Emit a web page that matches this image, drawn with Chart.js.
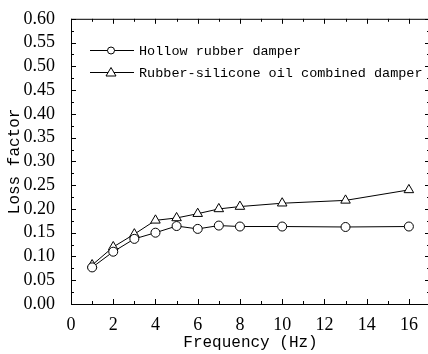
<!DOCTYPE html>
<html>
<head>
<meta charset="utf-8">
<script src="https://cdn.jsdelivr.net/npm/chart.js@4/dist/chart.umd.min.js"></script>
<style>
  html, body { margin: 0; padding: 0; background: #fff; overflow: hidden; }
  #wrap { width: 440px; height: 354px; }
</style>
</head>
<body>
<div id="wrap"><canvas id="c" width="440" height="354"></canvas></div>
<script>
const freq = [1, 2, 3, 4, 5, 6, 7, 8, 10, 13, 16];
const hollow = [0.077, 0.110, 0.137, 0.150, 0.164, 0.158, 0.165, 0.163, 0.163, 0.162, 0.163];
const combined = [0.082, 0.120, 0.147, 0.176, 0.181, 0.190, 0.200, 0.205, 0.212, 0.218, 0.240];
const seriesNames = ["Hollow rubber damper", "Rubber-silicone oil combined damper"];
const xTicks = [0, 2, 4, 6, 8, 10, 12, 14, 16];

const serif = "'Liberation Serif', 'Times New Roman', serif";
const mono = "'Liberation Mono', 'DejaVu Sans Mono', monospace";

// frame, inward ticks and legend
const framePlugin = {
  id: "frame",
  afterDraw(chart) {
    const { ctx, chartArea: a, scales } = chart;
    const xs = scales.x, ys = scales.y;
    ctx.save();
    ctx.strokeStyle = "#000";
    ctx.lineWidth = 1;
    ctx.strokeRect(a.left + 0.5, a.top + 0.5, a.right - a.left, a.bottom - a.top);
    ctx.beginPath();
    for (let v = 0; v <= 17; v++) {
      const len = v % 2 === 0 ? 5 : 3;
      const px = Math.round(xs.getPixelForValue(v)) + 0.5;
      ctx.moveTo(px, a.bottom); ctx.lineTo(px, a.bottom - len);
      ctx.moveTo(px, a.top); ctx.lineTo(px, a.top + len);
    }
    for (let i = 0; i <= 24; i++) {
      const v = i * 0.025;
      const len = i % 2 === 0 ? 5 : 3;
      const py = Math.round(ys.getPixelForValue(v)) + 0.5;
      ctx.moveTo(a.left, py); ctx.lineTo(a.left + len, py);
      ctx.moveTo(a.right, py); ctx.lineTo(a.right - len, py);
    }
    ctx.stroke();

    // legend
    const rows = [{ y: 50, style: "circle" }, { y: 72, style: "triangle" }];
    ctx.font = "13.5px " + mono;
    ctx.fillStyle = "#000";
    ctx.textBaseline = "middle";
    rows.forEach((r, i) => {
      ctx.beginPath();
      ctx.moveTo(90, r.y + 0.5); ctx.lineTo(134, r.y + 0.5);
      ctx.stroke();
      ctx.beginPath();
      if (r.style === "circle") {
        ctx.arc(111, r.y + 0.5, 3.5, 0, Math.PI * 2);
      } else {
        ctx.moveTo(111, r.y - 4.5); ctx.lineTo(116, r.y + 4); ctx.lineTo(106, r.y + 4); ctx.closePath();
      }
      ctx.fillStyle = "#fff"; ctx.fill(); ctx.stroke();
      ctx.fillStyle = "#000";
      ctx.fillText(seriesNames[i], 139, r.y + 1);
    });
    ctx.restore();
  }
};

new Chart(document.getElementById("c"), {
  type: "line",
  data: {
    datasets: [
      {
        label: seriesNames[0],
        data: freq.map((f, i) => ({ x: f, y: hollow[i] })),
        borderColor: "#000", borderWidth: 1,
        pointStyle: "circle", pointRadius: 4.5,
        pointBackgroundColor: "#fff", pointBorderColor: "#000", pointBorderWidth: 1
      },
      {
        label: seriesNames[1],
        data: freq.map((f, i) => ({ x: f, y: combined[i] })),
        borderColor: "#000", borderWidth: 1,
        pointStyle: "triangle", pointRadius: 5.5,
        pointBackgroundColor: "#fff", pointBorderColor: "#000", pointBorderWidth: 1
      }
    ]
  },
  options: {
    responsive: false,
    animation: false,
    layout: { padding: { top: 13, right: 10, left: 0, bottom: 0 } },
    plugins: { legend: { display: false }, tooltip: { enabled: false } },
    scales: {
      x: {
        type: "linear", min: 0, max: 17,
        grid: { display: false }, border: { display: false },
        afterBuildTicks: s => { s.ticks = xTicks.map(v => ({ value: v })); },
        afterFit: s => { s.height = 50; },
        ticks: { autoSkip: false, maxRotation: 0, padding: 2, color: "#000", font: { family: serif, size: 18 } },
        title: { display: true, text: "Frequency (Hz)", color: "#000", padding: { top: 0, bottom: 2 }, font: { family: mono, size: 16 } }
      },
      y: {
        min: 0, max: 0.6,
        grid: { display: false }, border: { display: false },
        afterFit: s => { s.width = 71; },
        ticks: { stepSize: 0.05, autoSkip: false, padding: 8, color: "#000", font: { family: serif, size: 18 },
          callback: v => v.toFixed(2) },
        title: { display: true, text: "Loss factor", color: "#000", padding: { top: 5, bottom: 0 }, font: { family: mono, size: 16 } }
      }
    }
  },
  plugins: [framePlugin]
});
</script>
</body>
</html>
